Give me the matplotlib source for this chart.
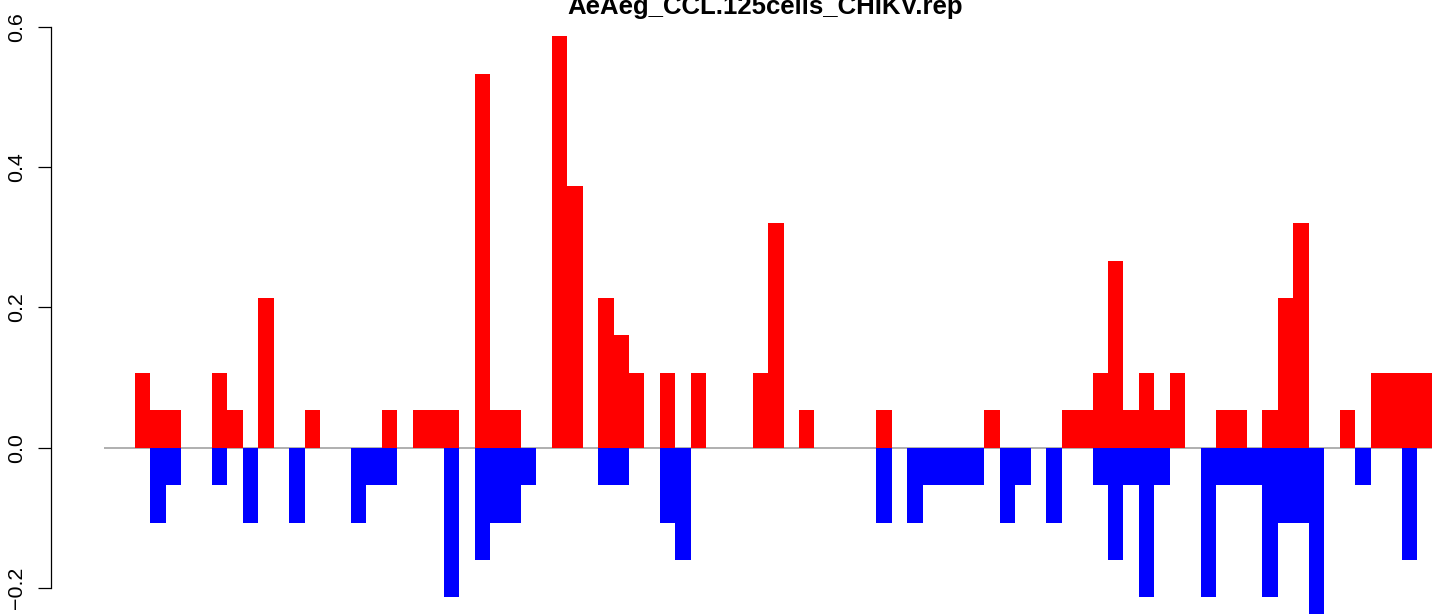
import matplotlib
matplotlib.use("Agg")
import matplotlib.pyplot as plt
import numpy as np

plt.rcParams['font.family'] = ['Liberation Sans', 'DejaVu Sans']

title = "AeAeg_CCL.125cells_CHIKV.rep"

# values per position (86 positions)
red_vals = [0, 0, .1067, .0533, .0533, 0, 0, .1067, .0533, 0,
            .2133, 0, 0, .0533, 0, 0, 0, 0, .0533, 0,
            .0533, .0533, .0533, 0, .5333, .0533, .0533, 0, 0, .5867,
            .3733, 0, .2133, .16, .1067, 0, .1067, 0, .1067, 0,
            0, 0, .1067, .32, 0, .0533, 0, 0, 0, 0,
            .0533, 0, 0, 0, 0, 0, 0, .0533, 0, 0,
            0, 0, .0533, .0533, .1067, .2667, .0533, .1067, .0533, .1067,
            0, 0, .0533, .0533, 0, .0533, .2133, .32, 0, 0,
            .0533, 0, .1067, .1067, .1067, .1067]

blue_vals = [0, 0, 0, -.1067, -.0533, 0, 0, -.0533, 0, -.1067,
             0, 0, -.1067, 0, 0, 0, -.1067, -.0533, -.0533, 0,
             0, 0, -.2133, 0, -.16, -.1067, -.1067, -.0533, 0, 0,
             0, 0, -.0533, -.0533, 0, 0, -.1067, -.16, 0, 0,
             0, 0, 0, 0, 0, 0, 0, 0, 0, 0,
             -.1067, 0, -.1067, -.0533, -.0533, -.0533, -.0533, 0, -.1067, -.0533,
             0, -.1067, 0, 0, -.0533, -.16, -.0533, -.2133, -.0533, 0,
             0, -.2133, -.0533, -.0533, -.0533, -.2133, -.1067, -.1067, -.2667, 0,
             0, -.0533, 0, 0, -.16, 0]

yticks = [-0.2, 0.0, 0.2, 0.4, 0.6]
ytick_labels = ["\u22120.2", "0.0", "0.2", "0.4", "0.6"]

W, H = 1436, 614
fig = plt.figure(figsize=(W / 100, H / 100), dpi=100)

n = len(red_vals)
# pixel mapping
x0_px, xw_px = 103.7, 15.45
y0_px, yu_px = 447.7, 701.5
xlim = (-3.44, 89.44)
ylim = (-0.3, 0.62)
left_px = x0_px + xlim[0] * xw_px
right_px = x0_px + xlim[1] * xw_px
top_px = y0_px - ylim[1] * yu_px
bot_px = y0_px - ylim[0] * yu_px
ax = fig.add_axes([left_px / W, (H - bot_px) / H, (right_px - left_px) / W, (bot_px - top_px) / H])
ax.set_xlim(*xlim)
ax.set_ylim(*ylim)

pos = np.arange(n)
ax.plot([0, n], [0, 0], color='#9a9a9a', lw=1.1, zorder=1, solid_capstyle='butt')
ax.bar(pos, red_vals, width=1.0, align='edge', color='#ff0000', linewidth=0, zorder=2)
ax.bar(pos, blue_vals, width=1.0, align='edge', color='#0000ff', linewidth=0, zorder=3)

for s in ['top', 'right', 'bottom']:
    ax.spines[s].set_visible(False)
ax.spines['left'].set_bounds(-0.2, 0.6)
ax.spines['left'].set_linewidth(0.9)
ax.set_xticks([])
ax.set_yticks(yticks)
ax.set_yticklabels(ytick_labels, rotation=90, va='center', ha='right', fontsize=15.4)
ax.tick_params(axis='y', length=9.4, width=0.9, pad=8.5)

fig.text(765 / W, 1 - 14 / H, title, ha='center', va='baseline', fontsize=18.5, fontweight='bold')

fig.savefig("out.png", dpi=100)
